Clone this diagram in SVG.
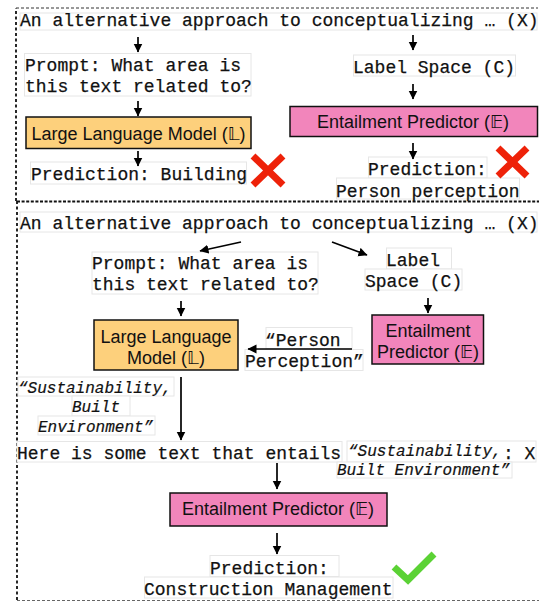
<svg xmlns="http://www.w3.org/2000/svg" width="540" height="601" viewBox="0 0 540 601">
<style>
.m{font-family:"Liberation Mono",monospace;font-size:18px;fill:#111;stroke:#111;stroke-width:.25}
.i{font-family:"Liberation Mono",monospace;font-size:16px;font-style:italic;fill:#111;stroke:#111;stroke-width:.2}
.s{font-family:"Liberation Sans",Arial,"DejaVu Sans",sans-serif;font-size:18px;fill:#111;text-anchor:middle}
.b{fill:#fff;stroke:#e6e6e6;stroke-width:1}
.o{fill:#fdd07c;stroke:#111;stroke-width:1.5}
.p{fill:#f285bb;stroke:#111;stroke-width:1.5}
.a{stroke:#000;stroke-width:1.7;fill:none;marker-end:url(#h)}
.x{stroke:#ee2209;stroke-width:7;fill:none}
</style>
<defs>
<marker id="h" markerUnits="userSpaceOnUse" markerWidth="10" markerHeight="10" refX="8.500" refY="4.500" orient="auto"><path d="M0 0L9 4.500L0 9z" fill="#000"/></marker>
</defs>
<g id="frames" fill="none" stroke="#111">
<path d="M16 201V8" stroke-width="1.800" stroke-dasharray="3 2.500"/>
<path d="M16 8H538" stroke="#333" stroke-width="1" stroke-dasharray="3 2"/>
<path d="M17 201.500H539" stroke-width="2.200" stroke-dasharray="3 1.600"/>
<path d="M17 201V600" stroke-width="1.800" stroke-dasharray="3 2.500"/>
<path d="M17 600.500H539" stroke="#666" stroke-width="1" stroke-dasharray="3 2"/>
</g>
<g id="top-input"><rect class="b" x="20" y="13" width="517" height="17"/><text class="m" x="20" y="26">An alternative approach to conceptualizing … (X)</text></g>
<g id="top-prompt"><rect class="b" x="24.500" y="53.500" width="226.500" height="42.500"/><text class="m" x="25" y="71">Prompt: What area is</text><text class="m" x="25" y="92">this text related to?</text></g>
<g id="top-llm"><rect class="o" x="26" y="117" width="225" height="31.500"/><text class="s" x="138.500" y="140">Large Language Model (𝕃)</text></g>
<g id="top-prediction-left"><rect class="b" x="30.500" y="162" width="216" height="22"/><text class="m" x="31" y="180">Prediction: Building</text></g>
<g id="cross-left"><path class="x" d="M253 156L283 185M283 156L253 185"/></g>
<g id="top-label-space"><rect class="b" x="353.500" y="55" width="162" height="21"/><text class="m" x="353" y="73">Label Space (C)</text></g>
<g id="top-entailment"><rect class="p" x="290" y="106.500" width="247.500" height="30"/><text class="s" x="413" y="128">Entailment Predictor (𝔼)</text></g>
<g id="top-prediction-right"><rect class="b" x="368.500" y="157" width="118.500" height="21"/><rect class="b" x="336.500" y="178" width="183" height="21"/><text class="m" x="368" y="175">Prediction:</text><text class="m" x="336" y="197">Person perception</text></g>
<g id="cross-right"><path class="x" d="M498 148L527 176M527 148L498 176"/></g>
<g id="bottom-input"><rect class="b" x="20" y="212" width="517" height="20"/><text class="m" x="20" y="229">An alternative approach to conceptualizing … (X)</text></g>
<g id="bottom-prompt"><rect class="b" x="92" y="252" width="226" height="42"/><text class="m" x="92" y="269">Prompt: What area is</text><text class="m" x="92" y="290">this text related to?</text></g>
<g id="bottom-llm"><rect class="o" x="94" y="320" width="144" height="50"/><text class="s" x="166" y="343">Large Language</text><text class="s" x="166" y="364">Model (𝕃)</text></g>
<g id="bottom-label-space"><rect class="b" x="386.500" y="248" width="65" height="21"/><rect class="b" x="365" y="269" width="97" height="21"/><text class="m" x="386" y="266">Label</text><text class="m" x="365" y="287">Space (C)</text></g>
<g id="bottom-entailment"><rect class="p" x="372" y="315" width="111.500" height="49"/><text class="s" x="428" y="337">Entailment</text><text class="s" x="428" y="358">Predictor (𝔼)</text></g>
<g id="person-perception"><rect class="b" x="266" y="327.500" width="86" height="21"/><rect class="b" x="245" y="349.500" width="118" height="21"/><text class="m" x="265" y="346">“Person</text><text class="m" x="245" y="367">Perception”</text></g>
<g id="sustainability-left"><rect class="b" x="18" y="377" width="156" height="19"/><rect class="b" x="72" y="396" width="58" height="20"/><rect class="b" x="38" y="416" width="117" height="19"/><text class="i" x="18" y="393">“Sustainability,</text><text class="i" x="72" y="412">Built</text><text class="i" x="38" y="432">Environment”</text></g>
<g id="here-text"><rect class="b" x="17" y="441.500" width="325" height="20.500"/><text class="m" x="17" y="459">Here is some text that entails</text></g>
<g id="sustainability-right"><rect class="b" x="347" y="441" width="189" height="21"/><rect class="b" x="337" y="462" width="175" height="16"/><text class="i" x="348" y="456">“Sustainability,</text><text class="m" x="503" y="459">: X</text><text class="i" x="337" y="475">Built Environment”</text></g>
<g id="bottom-entailment-2"><rect class="p" x="170" y="493" width="217" height="33"/><text class="s" x="278" y="515">Entailment Predictor (𝔼)</text></g>
<g id="bottom-prediction"><rect class="b" x="210" y="555.500" width="129" height="21"/><rect class="b" x="144.500" y="577" width="248.500" height="21"/><text class="m" x="210" y="574">Prediction:</text><text class="m" x="144" y="595">Construction Management</text></g>
<g id="check"><path d="M394 567L408 580L434 554" fill="none" stroke="#5bd235" stroke-width="7"/></g>
<g id="connectors">
<path class="a" d="M138 37V52"/><path class="a" d="M138 101V116"/><path class="a" d="M138 151V166"/>
<path class="a" d="M413 35V50"/><path class="a" d="M413 84V99"/><path class="a" d="M413 143V159"/>
<path class="a" d="M241 242L200 251"/><path class="a" d="M332 242L367 255"/>
<path class="a" d="M181 301V316"/><path class="a" d="M428 298V313"/>
<path class="a" d="M352 349H248"/><path class="a" d="M181 377V440"/>
<path class="a" d="M277 463V489"/><path class="a" d="M277 533V554"/>
</g>
</svg>
